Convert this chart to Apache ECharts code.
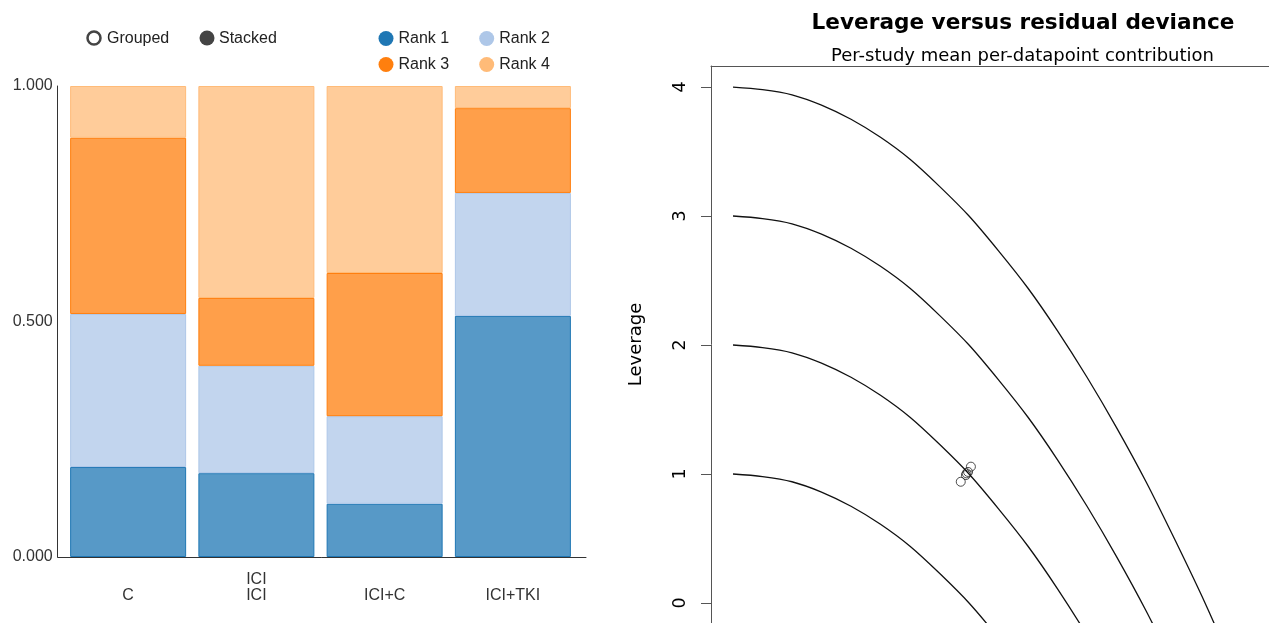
<!DOCTYPE html>
<html>
<head>
<meta charset="utf-8">
<script src="https://cdn.jsdelivr.net/npm/echarts@6.0.0/dist/echarts.min.js"></script>
<style>
  html, body { margin: 0; padding: 0; background: #fff; }
  #chart { width: 1269px; height: 623px; }
</style>
</head>
<body>
<div id="chart"></div>
<script>
// left panel: rank probabilities per treatment
const categories = ['C', 'ICI', 'ICI+C', 'ICI+TKI']
const tickLabels = ['C', 'ICI\nICI', 'ICI+C', 'ICI+TKI']
const rankNames = ['Rank 1', 'Rank 2', 'Rank 3', 'Rank 4']
const rank1 = [0.191, 0.178, 0.113, 0.512]
const rank2 = [0.325, 0.228, 0.186, 0.261]
const rank3 = [0.374, 0.144, 0.304, 0.180]
const rank4 = [0.110, 0.450, 0.397, 0.047]
const rankColors = ['#1f77b4', '#aec7e8', '#ff7f0e', '#ffbb78']

// right panel: leverage vs sqrt(residual deviance)
const contourX = [0, 0.125, 0.25, 0.375, 0.5, 0.625, 0.75, 0.875, 1, 1.125, 1.25, 1.375, 1.5, 1.625, 1.75, 1.875, 2, 2.125, 2.25]
const contour1 = [1, 0.98, 0.94, 0.86, 0.75, 0.61, 0.44, 0.23, 0, -0.27, -0.56]
const contour2 = [2, 1.98, 1.94, 1.86, 1.75, 1.61, 1.44, 1.23, 1, 0.73, 0.44, 0.11, -0.25, -0.64]
const contour3 = [3, 2.98, 2.94, 2.86, 2.75, 2.61, 2.44, 2.23, 2, 1.73, 1.44, 1.11, 0.75, 0.36, -0.06, -0.52]
const contour4 = [4, 3.98, 3.94, 3.86, 3.75, 3.61, 3.44, 3.23, 3, 2.73, 2.44, 2.11, 1.75, 1.36, 0.94, 0.48, 0, -0.52]
const studyDev = [0.990, 1.008, 0.965, 0.987, 0.996]
const studyLev = [1.005, 1.057, 0.940, 0.992, 1.016]
const levTicks = [0, 1, 2, 3, 4]

const leftFont = "'Liberation Sans', Arial, sans-serif"
const rightFont = "'DejaVu Sans', sans-serif"

function fade(hex, a) {
  const n = parseInt(hex.slice(1), 16)
  return `rgba(${(n >> 16) & 255},${(n >> 8) & 255},${n & 255},${a})`
}

const chart = echarts.init(document.getElementById('chart'))

const rankSeries = [rank1, rank2, rank3, rank4].map((vals, r) => ({
  name: rankNames[r],
  type: 'bar',
  stack: 'rank',
  xAxisIndex: 0,
  yAxisIndex: 0,
  barWidth: 116,
  itemStyle: { color: fade(rankColors[r], 0.75), borderColor: rankColors[r], borderWidth: 1 },
  data: vals
}))

const contourSeries = [contour1, contour2, contour3, contour4].map((ys, c) => ({
  name: `contour${c + 1}`,
  type: 'line',
  xAxisIndex: 2,
  yAxisIndex: 2,
  symbol: 'none',
  smooth: 0.3,
  lineStyle: { color: '#111', width: 1.3 },
  data: ys.map((y, i) => [contourX[i], y])
}))

const rankLegend = (names, offset, top) => ({
  data: names.map((n, i) => ({ name: n, itemStyle: { color: rankColors[i + offset], borderWidth: 0 } })),
  left: 378.5, top: top, padding: 0, icon: 'circle',
  itemWidth: 15, itemHeight: 15, itemGap: 30,
  textStyle: { fontFamily: leftFont, fontSize: 16, color: '#222' }
})

const option = {
  animation: false,
  title: [
    {
      text: 'Leverage versus residual deviance',
      left: 1018, top: 7, textAlign: 'center',
      textStyle: { fontFamily: rightFont, fontSize: 21.6, fontWeight: 'bold', color: '#000' }
    },
    {
      text: 'Per-study mean per-datapoint contribution',
      left: 1017.5, top: 42, textAlign: 'center',
      textStyle: { fontFamily: rightFont, fontSize: 18, fontWeight: 'normal', color: '#000' }
    }
  ],
  legend: [
    rankLegend(rankNames.slice(0, 2), 0, 30.5),
    rankLegend(rankNames.slice(2, 4), 2, 56.5)
  ],
  graphic: [
    { type: 'circle', shape: { cx: 94, cy: 38, r: 6.5 }, style: { fill: '#fff', stroke: '#444', lineWidth: 2.5 } },
    { type: 'text', x: 107, y: 39, style: { text: 'Grouped', font: `16px ${leftFont}`, fill: '#222', verticalAlign: 'middle' } },
    { type: 'circle', shape: { cx: 207, cy: 38, r: 7.5 }, style: { fill: '#444' } },
    { type: 'text', x: 219, y: 39, style: { text: 'Stacked', font: `16px ${leftFont}`, fill: '#222', verticalAlign: 'middle' } }
  ],
  grid: [
    // bars
    { left: 64, top: 86, right: 692, bottom: 66 },
    // left frame (axis lines + y labels)
    { left: 57.7, top: 86, right: 683, bottom: 66 },
    // leverage plot, bottom and right edges run off the picture
    { left: 711, top: 66, right: 0, bottom: 0 }
  ],
  xAxis: [
    {
      type: 'category', gridIndex: 0, data: categories,
      axisLine: { show: false }, axisTick: { show: false }, splitLine: { show: false },
      axisLabel: {
        formatter: (v, i) => tickLabels[i],
        verticalAlign: 'bottom', margin: 47, lineHeight: 16,
        fontFamily: leftFont, fontSize: 16, color: '#333'
      }
    },
    {
      type: 'value', gridIndex: 1, min: 0, max: 1,
      axisLine: { show: true, onZero: false, lineStyle: { color: '#333' } },
      axisTick: { show: false }, axisLabel: { show: false }, splitLine: { show: false }
    },
    {
      type: 'value', gridIndex: 2, min: -0.0932, max: 2.271, position: 'top',
      axisLine: { show: true, onZero: false, lineStyle: { color: '#555' } },
      axisTick: { show: false }, axisLabel: { show: false }, splitLine: { show: false }
    }
  ],
  yAxis: [
    {
      type: 'value', gridIndex: 0, min: 0, max: 1, show: false
    },
    {
      type: 'value', gridIndex: 1, min: 0, max: 1, interval: 0.5,
      axisLine: { show: true, onZero: false, lineStyle: { color: '#333' } },
      axisTick: { show: false },
      splitLine: { show: false },
      axisLabel: {
        formatter: (v) => v.toFixed(3), margin: 5,
        fontFamily: leftFont, fontSize: 16, color: '#333'
      }
    },
    {
      type: 'value', gridIndex: 2, min: -0.155, max: 4.163,
      name: 'Leverage', nameLocation: 'middle', nameRotate: 90, nameGap: 66,
      nameTextStyle: { fontFamily: rightFont, fontSize: 18, color: '#000' },
      axisLine: { show: true, onZero: false, lineStyle: { color: '#555' } },
      axisTick: { show: true, customValues: levTicks, length: 10, lineStyle: { color: '#555' } },
      splitLine: { show: false },
      axisLabel: {
        customValues: levTicks, rotate: 90, margin: 22,
        fontFamily: rightFont, fontSize: 17.5, color: '#000'
      }
    }
  ],
  series: [
    ...rankSeries,
    ...contourSeries,
    {
      name: 'studies',
      type: 'scatter',
      xAxisIndex: 2,
      yAxisIndex: 2,
      symbol: 'circle',
      symbolSize: 9,
      itemStyle: { color: 'rgba(0,0,0,0)', borderColor: '#222', borderWidth: 1 },
      data: studyDev.map((x, i) => [x, studyLev[i]])
    }
  ]
}

chart.setOption(option)
</script>
</body>
</html>
